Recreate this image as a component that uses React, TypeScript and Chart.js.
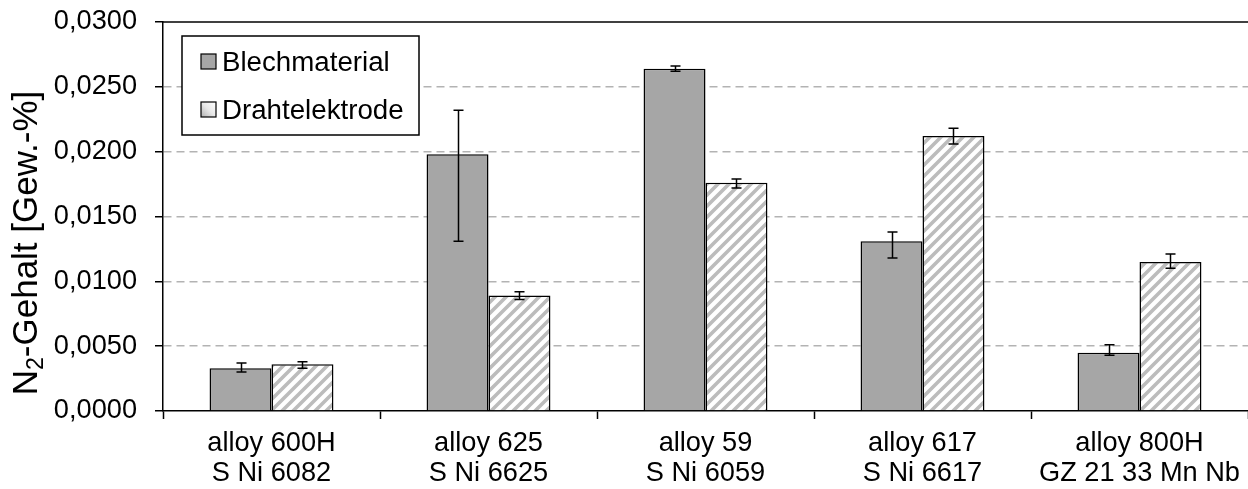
import React, { useEffect, useRef } from "react";
import { Chart, registerables } from "chart.js";

Chart.register(...registerables);

const categories: string[][] = [
  ["alloy 600H", "S Ni 6082"],
  ["alloy 625", "S Ni 6625"],
  ["alloy 59", "S Ni 6059"],
  ["alloy 617", "S Ni 6617"],
  ["alloy 800H", "GZ 21 33 Mn Nb"],
];
const seriesNames = ["Blechmaterial", "Drahtelektrode"];

const blechValues = [0.0033, 0.0198, 0.0264, 0.0131, 0.0045];
const blechLow = [0.0030, 0.0131, 0.0262, 0.0118, 0.0043];
const blechHigh = [0.0037, 0.0232, 0.0266, 0.0138, 0.0051];

const drahtValues = [0.0036, 0.0089, 0.0176, 0.0212, 0.0115];
const drahtLow = [0.0033, 0.0086, 0.0172, 0.0206, 0.0110];
const drahtHigh = [0.0038, 0.0092, 0.0179, 0.0218, 0.0121];

const yMin = 0;
const yMax = 0.03;
const yStep = 0.005;
const yTitleMain = "N";
const yTitleSub = "2";
const yTitleRest = "-Gehalt [Gew.-%]";

const FONT = '"Liberation Sans", Arial, sans-serif';
const FS = 27.2;
const FS_LEGEND = 27.7;
const FS_TITLE = 35;

function makeHatch(): CanvasPattern | string {
  const c = document.createElement("canvas");
  const s = 11;
  c.width = s;
  c.height = s;
  const g = c.getContext("2d");
  if (!g) return "#ffffff";
  g.fillStyle = "#ffffff";
  g.fillRect(0, 0, s, s);
  g.strokeStyle = "#bcbcbc";
  g.lineWidth = 3.6;
  g.lineCap = "square";
  for (const off of [-s, 0, s]) {
    g.beginPath();
    g.moveTo(off, s);
    g.lineTo(off + s, 0);
    g.stroke();
  }
  const p = g.createPattern(c, "repeat");
  return p || "#ffffff";
}

export default function App() {
  const ref = useRef<HTMLCanvasElement | null>(null);

  useEffect(() => {
    document.body.style.margin = "0";
    const canvas = ref.current;
    if (!canvas) return;
    const hatch = makeHatch();
    const lows = [blechLow, drahtLow];
    const highs = [blechHigh, drahtHigh];

    const errorBars = {
      id: "errorBars",
      afterDatasetsDraw(chart: any) {
        const ctx = chart.ctx;
        const ys = chart.scales.y;
        ctx.save();
        ctx.strokeStyle = "#000";
        ctx.lineWidth = 1.5;
        chart.data.datasets.forEach((_: any, di: number) => {
          const meta = chart.getDatasetMeta(di);
          meta.data.forEach((bar: any, j: number) => {
            const x = Math.round(bar.x) + 0.5;
            const yh = ys.getPixelForValue(highs[di][j]);
            const yl = ys.getPixelForValue(lows[di][j]);
            ctx.beginPath();
            ctx.moveTo(x, yh);
            ctx.lineTo(x, yl);
            ctx.moveTo(x - 5, yh);
            ctx.lineTo(x + 5, yh);
            ctx.moveTo(x - 5, yl);
            ctx.lineTo(x + 5, yl);
            ctx.stroke();
          });
        });
        ctx.restore();
      },
    };

    const decorations = {
      id: "decorations",
      afterDraw(chart: any) {
        const ctx = chart.ctx;
        const ca = chart.chartArea;
        ctx.save();
        // top frame line
        ctx.strokeStyle = "#000";
        ctx.lineWidth = 1.5;
        ctx.beginPath();
        ctx.moveTo(ca.left, ca.top);
        ctx.lineTo(chart.width, ca.top);
        ctx.stroke();

        // legend box
        const lx = 182, ly = 36, lw = 237, lh = 99;
        ctx.fillStyle = "#ffffff";
        ctx.fillRect(lx, ly, lw, lh);
        ctx.strokeStyle = "#000";
        ctx.lineWidth = 1.5;
        ctx.strokeRect(lx, ly, lw, lh);
        const rows = [62, 110];
        ctx.font = `${FS_LEGEND}px ${FONT}`;
        ctx.textBaseline = "middle";
        ctx.textAlign = "left";
        rows.forEach((ry, i) => {
          const sx = 201, sy = ry - 8, ss = 15;
          if (i === 0) {
            ctx.fillStyle = "#a6a6a6";
          } else {
            const gr = ctx.createLinearGradient(sx, sy + ss, sx + ss, sy);
            gr.addColorStop(0, "#b0b0b0");
            gr.addColorStop(0.5, "#e8e8e8");
            gr.addColorStop(1, "#ffffff");
            ctx.fillStyle = gr;
          }
          ctx.fillRect(sx, sy, ss, ss);
          ctx.strokeStyle = "#000";
          ctx.lineWidth = 1.2;
          ctx.strokeRect(sx, sy, ss, ss);
          ctx.fillStyle = "#000";
          ctx.fillText(seriesNames[i], 222, ry + 1);
        });

        // y-axis title with subscript
        ctx.translate(37, 243);
        ctx.rotate(-Math.PI / 2);
        ctx.fillStyle = "#000";
        ctx.textBaseline = "alphabetic";
        const big = `${FS_TITLE}px ${FONT}`;
        const small = `${FS_TITLE * 0.66}px ${FONT}`;
        ctx.font = big;
        const w1 = ctx.measureText(yTitleMain).width;
        const w3 = ctx.measureText(yTitleRest).width;
        ctx.font = small;
        const w2 = ctx.measureText(yTitleSub).width;
        const total = w1 + w2 + w3;
        let x = -total / 2;
        ctx.font = big;
        ctx.fillText(yTitleMain, x, 0);
        x += w1;
        ctx.font = small;
        ctx.fillText(yTitleSub, x, 6);
        x += w2;
        ctx.font = big;
        ctx.fillText(yTitleRest, x, 0);
        ctx.restore();
      },
    };

    const chart = new Chart(canvas, {
      type: "bar",
      data: {
        labels: categories,
        datasets: [
          {
            label: seriesNames[0],
            data: blechValues,
            backgroundColor: "#a6a6a6",
            borderColor: "#000",
            borderWidth: 1.5,
            categoryPercentage: 0.571,
            barPercentage: 1,
          },
          {
            label: seriesNames[1],
            data: drahtValues,
            backgroundColor: hatch as any,
            borderColor: "#000",
            borderWidth: 1.5,
            categoryPercentage: 0.571,
            barPercentage: 1,
          },
        ],
      },
      options: {
        responsive: false,
        animation: false,
        devicePixelRatio: 1,
        layout: { padding: { top: 22, left: 0, right: 0, bottom: 0 } },
        plugins: {
          legend: { display: false },
          tooltip: { enabled: false },
        },
        scales: {
          x: {
            offset: true,
            grid: {
              offset: true,
              drawOnChartArea: false,
              drawTicks: true,
              tickLength: 8,
              tickColor: "#000",
              tickWidth: 1.5,
            },
            border: { display: true, color: "#000", width: 1.5 },
            ticks: {
              color: "#000",
              padding: 10,
              font: { family: FONT, size: FS, lineHeight: 1.1 },
              maxRotation: 0,
              autoSkip: false,
            },
            afterFit(scale: any) {
              scale.height = 78;
              scale.paddingLeft = 0;
              scale.paddingRight = 0;
            },
          },
          y: {
            min: yMin,
            max: yMax,
            grid: {
              color: (c: any) => {
                const v = c.tick ? c.tick.value : 0;
                if (Math.abs(v) < 1e-9 || Math.abs(v - yMax) < 1e-9) return "rgba(0,0,0,0)";
                return "#b3b3b3";
              },
              lineWidth: 1.5,
              drawTicks: true,
              tickLength: 8,
              tickColor: "#000",
              tickWidth: 1.5,
              tickBorderDash: [],
            },
            border: { display: true, color: "#000", width: 1.5, dash: [8, 5] },
            ticks: {
              stepSize: yStep,
              color: "#000",
              padding: 18,
              font: { family: FONT, size: FS },
              callback: (v: any) => Number(v).toFixed(4).replace(".", ","),
            },
            afterFit(scale: any) {
              scale.width = 163;
              scale.paddingTop = 0;
              scale.paddingBottom = 0;
            },
          },
        },
      },
      plugins: [errorBars, decorations],
    });

    return () => chart.destroy();
  }, []);

  return (
    <div style={{ width: 1248, height: 489 }}>
      <canvas ref={ref} width={1248} height={489} style={{ display: "block", width: 1248, height: 489 }} />
    </div>
  );
}
